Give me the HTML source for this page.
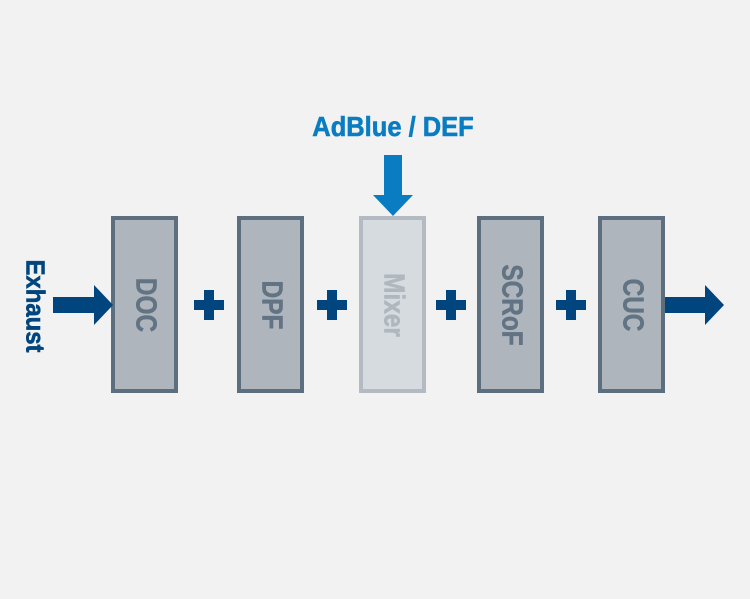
<!DOCTYPE html>
<html><head><style>
html,body{margin:0;padding:0;background:#f2f2f2;}
body{width:750px;height:599px;overflow:hidden;position:relative;font-family:"Liberation Sans",sans-serif;}
.t{position:absolute;font-weight:bold;white-space:nowrap;transform:translate(-50%,-50%) rotate(90deg) scaleX(0.84);-webkit-text-stroke:0.6px currentColor;}
</style></head><body>
<svg width="750" height="599" style="position:absolute;left:0;top:0">
<g stroke-width="4">
<rect x="113" y="218" width="63" height="173" fill="#aeb5bd" stroke="#5d6e7e"/>
<rect x="239" y="218" width="63" height="173" fill="#aeb5bd" stroke="#5d6e7e"/>
<rect x="361" y="218" width="63" height="173" fill="#d6dbe0" stroke="#b3bac1"/>
<rect x="479" y="218" width="63" height="173" fill="#aeb5bd" stroke="#5d6e7e"/>
<rect x="600" y="218" width="63" height="173" fill="#aeb5bd" stroke="#5d6e7e"/>
</g>
<g fill="#00457e">
<polygon points="53,297 94,297 94,285 113,305 94,325 94,313 53,313"/>
<polygon points="665,297 705,297 705,285 724,305 705,325 705,313 665,313"/>
<g id="p"><rect x="194" y="300" width="30" height="10"/><rect x="204" y="290" width="10" height="30"/></g>
<use href="#p" x="123"/><use href="#p" x="242"/><use href="#p" x="362"/>
</g>
<polygon fill="#0a7dc2" points="384,155 402,155 402,195 413,195 393,216 373,195 384,195"/>
</svg>
<div style="position:absolute;left:293px;top:111px;width:200px;text-align:center;font-weight:bold;font-size:28px;color:#0a7dc2;line-height:32px;white-space:nowrap;transform:scaleX(0.91);-webkit-text-stroke:0.6px #0a7dc2;">AdBlue / DEF</div>
<div class="t" style="left:35px;top:306px;font-size:26px;color:#00457e;transform:translate(-50%,-50%) rotate(90deg) scaleX(0.92);">Exhaust</div>
<div class="t" style="left:145px;top:305px;font-size:29px;color:#627384;">DOC</div>
<div class="t" style="left:271px;top:305px;font-size:29px;color:#627384;">DPF</div>
<div class="t" style="left:393px;top:305px;font-size:29px;color:#b0b7bf;">Mixer</div>
<div class="t" style="left:511px;top:305px;font-size:29px;color:#627384;">SCRoF</div>
<div class="t" style="left:632px;top:305px;font-size:29px;color:#627384;">CUC</div>
</body></html>
